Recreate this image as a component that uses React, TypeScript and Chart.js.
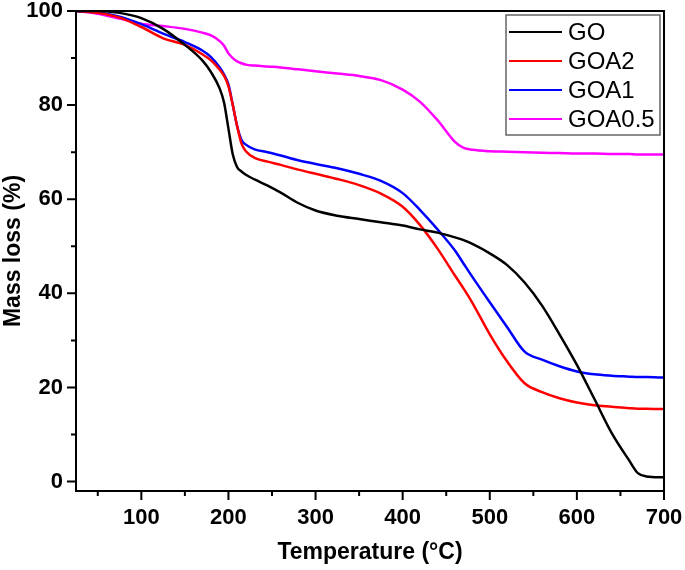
import React, { useEffect, useRef } from "react";
import { Chart, registerables } from "chart.js";

Chart.register(...registerables);

// Temperature grid (°C)
const temps = [25, 50, 75, 100, 125, 150, 170, 180, 190, 195, 200, 205, 210, 215, 220, 230, 245, 260, 280, 300, 325, 350, 375, 400, 420, 440, 460, 470, 480, 500, 520, 540, 560, 580, 600, 620, 640, 660, 670, 680, 700];

const seriesLabels = ["GO", "GOA2", "GOA1", "GOA0.5"];
const seriesColors = ["#000000", "#ff0000", "#0000ff", "#ff00ff"];

const goMass = [100, 100, 99.6, 98.5, 96.2, 92.8, 89.5, 87.0, 83.5, 80.5, 75.0, 69.5, 66.8, 65.9, 65.2, 64.2, 62.9, 61.4, 59.2, 57.6, 56.5, 55.8, 55.1, 54.4, 53.6, 52.9, 51.9, 51.3, 50.5, 48.5, 46.0, 42.3, 37.4, 31.3, 24.8, 17.6, 10.3, 4.5, 1.8, 1.1, 0.9];
const goa2Mass = [100, 99.6, 98.6, 96.6, 94.2, 92.8, 90.8, 89.5, 87.5, 86.2, 84.0, 80.0, 75.5, 71.8, 70.2, 68.8, 68.0, 67.3, 66.3, 65.4, 64.3, 63.0, 61.2, 58.4, 54.5, 49.5, 43.8, 41.0, 38.0, 31.3, 25.5, 20.9, 19.0, 17.7, 16.8, 16.2, 15.9, 15.6, 15.5, 15.5, 15.4];
const goa1Mass = [100, 99.7, 98.8, 97.2, 95.2, 93.4, 91.6, 90.2, 88.0, 86.5, 84.4, 80.0, 75.5, 72.6, 71.6, 70.6, 70.0, 69.3, 68.3, 67.5, 66.6, 65.4, 63.9, 61.3, 57.7, 53.6, 49.1, 46.3, 43.5, 38.1, 32.8, 27.6, 25.9, 24.5, 23.4, 22.8, 22.5, 22.3, 22.2, 22.2, 22.1];
const goa05Mass = [100, 99.4, 98.4, 97.3, 96.8, 96.2, 95.4, 94.8, 93.6, 92.6, 91.0, 90.0, 89.3, 88.9, 88.6, 88.4, 88.2, 88.0, 87.6, 87.2, 86.7, 86.2, 85.3, 83.3, 80.7, 76.8, 72.2, 70.9, 70.5, 70.2, 70.1, 70.0, 69.9, 69.8, 69.7, 69.7, 69.6, 69.6, 69.5, 69.5, 69.5];

const xMajorTicks = [100, 200, 300, 400, 500, 600, 700];
const xMinorTicks = [50, 150, 250, 350, 450, 550, 650];
const yMajorTicks = [0, 20, 40, 60, 80, 100];
const yMinorTicks = [10, 30, 50, 70, 90];

const FONT = "'Liberation Sans', Arial, sans-serif";

const framePlugin = {
  id: "frameTicks",
  afterDraw(chart: any) {
    const { ctx, chartArea, scales } = chart;
    const { left, right, top, bottom } = chartArea;
    ctx.save();
    ctx.strokeStyle = "#000";
    ctx.lineWidth = 2;
    ctx.strokeRect(left, top, right - left, bottom - top);
    ctx.beginPath();
    const xs = scales.x;
    const ys = scales.y;
    xMajorTicks.forEach((v) => {
      const px = xs.getPixelForValue(v);
      ctx.moveTo(px, bottom);
      ctx.lineTo(px, bottom + 9);
    });
    xMinorTicks.forEach((v) => {
      const px = xs.getPixelForValue(v);
      ctx.moveTo(px, bottom);
      ctx.lineTo(px, bottom + 5);
    });
    yMajorTicks.forEach((v) => {
      const py = ys.getPixelForValue(v);
      ctx.moveTo(left, py);
      ctx.lineTo(left - 9, py);
    });
    yMinorTicks.forEach((v) => {
      const py = ys.getPixelForValue(v);
      ctx.moveTo(left, py);
      ctx.lineTo(left - 5, py);
    });
    ctx.stroke();

    // legend box
    const bx = right - 158;
    const by = top + 4;
    const bw = 154;
    const bh = 120;
    ctx.strokeStyle = "#666";
    ctx.lineWidth = 1.5;
    ctx.strokeRect(bx, by, bw, bh);
    ctx.font = `24px ${FONT}`;
    ctx.textBaseline = "middle";
    ctx.textAlign = "left";
    chart.data.datasets.forEach((ds: any, i: number) => {
      const cy = by + 17 + i * 29;
      ctx.strokeStyle = ds.borderColor;
      ctx.lineWidth = 2;
      ctx.beginPath();
      ctx.moveTo(bx + 3, cy);
      ctx.lineTo(bx + 56, cy);
      ctx.stroke();
      ctx.fillStyle = "#000";
      ctx.fillText(ds.label, bx + 62, cy + 1);
    });
    ctx.restore();
  },
};

const zeroPad = (s: any) => {
  s.paddingTop = 0;
  s.paddingBottom = 0;
  s.paddingLeft = 0;
  s.paddingRight = 0;
};

export default function App() {
  const ref = useRef<HTMLCanvasElement>(null);
  useEffect(() => {
    document.body.style.margin = "0";
    const massSeries = [goMass, goa2Mass, goa1Mass, goa05Mass];
    const chart = new Chart(ref.current as HTMLCanvasElement, {
      type: "line",
      data: {
        datasets: massSeries.map((arr, i) => ({
          label: seriesLabels[i],
          data: temps.map((t, j) => ({ x: t, y: arr[j] })),
          borderColor: seriesColors[i],
          backgroundColor: seriesColors[i],
          borderWidth: 2.5,
          pointRadius: 0,
          cubicInterpolationMode: "monotone" as const,
          fill: false,
        })),
      },
      options: {
        animation: false,
        responsive: false,
        layout: { padding: { left: 0, top: 11, right: 21, bottom: 0 } },
        plugins: { legend: { display: false }, tooltip: { enabled: false } },
        scales: {
          x: {
            type: "linear",
            min: 25,
            max: 700,
            afterFit: (s: any) => {
              s.height = 79;
              zeroPad(s);
            },
            afterBuildTicks: (s: any) => {
              s.ticks = xMajorTicks.map((v) => ({ value: v }));
            },
            grid: { display: false, drawTicks: false },
            border: { display: false },
            ticks: {
              padding: 14,
              color: "#000",
              font: { family: FONT, size: 22, weight: "bold" },
              maxRotation: 0,
            },
            title: {
              display: true,
              text: "Temperature (°C)",
              color: "#000",
              font: { family: FONT, size: 23, weight: "bold" },
              padding: { top: 0, bottom: 4 },
            },
          },
          y: {
            type: "linear",
            min: -2,
            max: 100,
            afterFit: (s: any) => {
              s.width = 76;
              zeroPad(s);
            },
            afterBuildTicks: (s: any) => {
              s.ticks = yMajorTicks.map((v) => ({ value: v }));
            },
            grid: { display: false, drawTicks: false },
            border: { display: false },
            ticks: {
              padding: 13,
              color: "#000",
              font: { family: FONT, size: 22, weight: "bold" },
            },
            title: {
              display: true,
              text: "Mass loss (%)",
              color: "#000",
              font: { family: FONT, size: 23, weight: "bold" },
              padding: { top: 0, bottom: 0 },
            },
          },
        },
      },
      plugins: [framePlugin],
    });
    return () => chart.destroy();
  }, []);
  return (
    <div style={{ width: 685, height: 570 }}>
      <canvas ref={ref} width={685} height={570} style={{ display: "block" }} />
    </div>
  );
}
